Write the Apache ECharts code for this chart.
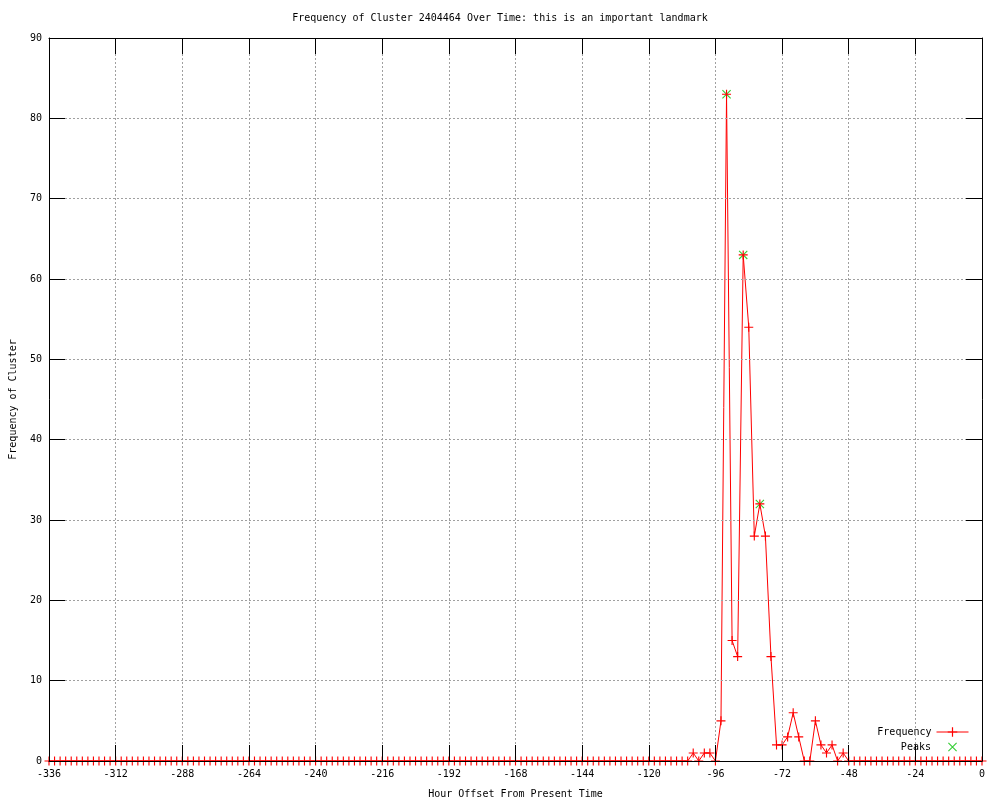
<!DOCTYPE html>
<html>
<head>
<meta charset="utf-8">
<script src="https://cdn.jsdelivr.net/npm/echarts@6/dist/echarts.min.js"></script>
<style>html,body{margin:0;padding:0;background:#fff}#c{width:1000px;height:800px}</style>
</head>
<body>
<div id="c"></div>
<script>
var titleText = 'Frequency of Cluster 2404464 Over Time: this is an important landmark';
var xName = 'Hour Offset From Present Time';
var yName = 'Frequency of Cluster';

var hours = [
  -336,-334,-332,-330,-328,-326,-324,-322,-320,-318,-316,-314,
  -312,-310,-308,-306,-304,-302,-300,-298,-296,-294,-292,-290,
  -288,-286,-284,-282,-280,-278,-276,-274,-272,-270,-268,-266,
  -264,-262,-260,-258,-256,-254,-252,-250,-248,-246,-244,-242,
  -240,-238,-236,-234,-232,-230,-228,-226,-224,-222,-220,-218,
  -216,-214,-212,-210,-208,-206,-204,-202,-200,-198,-196,-194,
  -192,-190,-188,-186,-184,-182,-180,-178,-176,-174,-172,-170,
  -168,-166,-164,-162,-160,-158,-156,-154,-152,-150,-148,-146,
  -144,-142,-140,-138,-136,-134,-132,-130,-128,-126,-124,-122,
  -120,-118,-116,-114,-112,-110,-108,-106,-104,-102,-100,-98,
  -96,-94,-92,-90,-88,-86,-84,-82,-80,-78,-76,-74,
  -72,-70,-68,-66,-64,-62,-60,-58,-56,-54,-52,-50,
  -48,-46,-44,-42,-40,-38,-36,-34,-32,-30,-28,-26,
  -24,-22,-20,-18,-16,-14,-12,-10,-8,-6,-4,-2,
  0
];
var frequency = [
  0,0,0,0,0,0,0,0,0,0,0,0,
  0,0,0,0,0,0,0,0,0,0,0,0,
  0,0,0,0,0,0,0,0,0,0,0,0,
  0,0,0,0,0,0,0,0,0,0,0,0,
  0,0,0,0,0,0,0,0,0,0,0,0,
  0,0,0,0,0,0,0,0,0,0,0,0,
  0,0,0,0,0,0,0,0,0,0,0,0,
  0,0,0,0,0,0,0,0,0,0,0,0,
  0,0,0,0,0,0,0,0,0,0,0,0,
  0,0,0,0,0,0,0,0,1,0,1,1,
  0,5,83,15,13,63,54,28,32,28,13,2,
  2,3,6,3,0,0,5,2,1,2,0,1,
  0,0,0,0,0,0,0,0,0,0,0,0,
  0,0,0,0,0,0,0,0,0,0,0,0,
  0
];
var peakHours = [-92, -86, -80];
var peakValues = [83, 63, 32];

var xMin = -336, xMax = 0, xStep = 24;
var yMin = 0, yMax = 90, yStep = 10;

var freqData = hours.map(function (h, i) { return [h, frequency[i]]; });
var peakData = peakHours.map(function (h, i) { return [h, peakValues[i]]; });

var FONT = 'DejaVu Sans Mono';
var plusPath = 'path://M3.5,0H4.5V3.5H8V4.5H4.5V8H3.5V4.5H0V3.5H3.5Z';
var crossPath = 'path://M0,0.7L0.7,0L8,7.3L7.3,8Z M7.3,0L8,0.7L0.7,8L0,7.3Z';

var axisLine = {show: true, onZero: false, lineStyle: {color: '#000', width: 1}};
var tick = {show: true, inside: true, length: 16, lineStyle: {color: '#000', width: 1}};
var grid = {show: true, lineStyle: {color: '#a0a0a0', type: [2, 2], width: 1}};
var lbl = {color: '#000', fontFamily: FONT, fontSize: 10};

var chart = echarts.init(document.getElementById('c'), null, {renderer: 'canvas'});
chart.setOption({
  backgroundColor: '#fff',
  animation: false,
  textStyle: {fontFamily: FONT},
  title: {
    text: titleText, left: 'center', top: 13, padding: 0,
    textStyle: {color: '#000', fontFamily: FONT, fontSize: 10, fontWeight: 'normal'}
  },
  grid: {left: 49, right: 18, top: 38, bottom: 39, containLabel: false, outerBoundsMode: 'none'},
  legend: [
    {data: ['Frequency'], orient: 'vertical', align: 'right', right: 31, top: 727, padding: 0,
     itemWidth: 32, itemHeight: 12, textStyle: lbl, lineStyle: {width: 1}},
    {data: [{name: 'Peaks', icon: crossPath}], orient: 'vertical', align: 'right', right: 43, top: 742, padding: 0,
     itemWidth: 9, itemHeight: 9, textStyle: lbl, formatter: function (n) { return n + '  '; }}
  ],
  xAxis: [
    {type: 'value', min: xMin, max: xMax, interval: xStep, position: 'bottom', z: 5,
     name: xName, nameLocation: 'middle', nameGap: 28,
     nameTextStyle: {color: '#000', fontFamily: FONT, fontSize: 10},
     axisLine: axisLine, axisTick: tick, splitLine: grid,
     axisLabel: {color: '#000', fontFamily: FONT, fontSize: 10, margin: 8}},
    {type: 'value', min: xMin, max: xMax, interval: xStep, position: 'top', z: 5,
     axisLine: axisLine, axisTick: tick, splitLine: {show: false}, axisLabel: {show: false}}
  ],
  yAxis: [
    {type: 'value', min: yMin, max: yMax, interval: yStep, position: 'left', z: 5,
     name: yName, nameLocation: 'middle', nameGap: 31,
     nameTextStyle: {color: '#000', fontFamily: FONT, fontSize: 10},
     axisLine: axisLine, axisTick: tick, splitLine: grid,
     axisLabel: {color: '#000', fontFamily: FONT, fontSize: 10, margin: 7}},
    {type: 'value', min: yMin, max: yMax, interval: yStep, position: 'right', z: 5,
     axisLine: axisLine, axisTick: tick, splitLine: {show: false}, axisLabel: {show: false}}
  ],
  series: [
    {name: 'Frequency', type: 'line', data: freqData, xAxisIndex: 0, yAxisIndex: 0,
     symbol: plusPath, symbolSize: 9, showAllSymbol: true, clip: false,
     lineStyle: {color: '#ff0000', width: 1}, itemStyle: {color: '#ff0000'},
     z: 3},
    {name: 'Peaks', type: 'scatter', data: peakData, xAxisIndex: 0, yAxisIndex: 0,
     symbol: crossPath, symbolSize: 9, symbolKeepAspect: true,
     itemStyle: {color: '#00c000'}, z: 2}
  ]
});
</script>
</body>
</html>
